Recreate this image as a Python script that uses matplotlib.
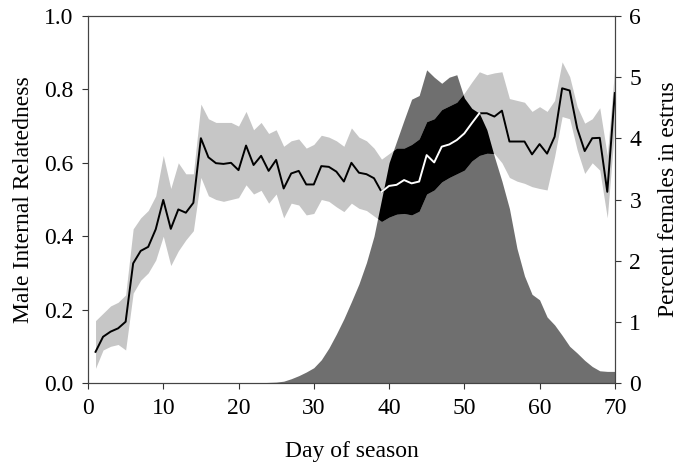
import numpy as np
import matplotlib
matplotlib.use("Agg")
import matplotlib.pyplot as plt
from matplotlib.ticker import FormatStrFormatter

plt.rcParams['font.family'] = ['Liberation Serif', 'DejaVu Serif']
plt.rcParams['font.size'] = 17

# day of season 1..70
days = np.arange(1, 71)

# mean male internal relatedness (left axis)
relatedness = [0.085, 0.126, 0.140, 0.149, 0.167, 0.326, 0.360, 0.371, 0.419, 0.499,
               0.420, 0.473, 0.464, 0.491, 0.667, 0.615, 0.599, 0.597, 0.600, 0.580,
               0.647, 0.594, 0.619, 0.578, 0.608, 0.530, 0.571, 0.578, 0.541, 0.541,
               0.591, 0.589, 0.576, 0.549, 0.600, 0.573, 0.569, 0.558, 0.521, 0.537,
               0.540, 0.553, 0.544, 0.549, 0.621, 0.601, 0.644, 0.650, 0.662, 0.680,
               0.708, 0.735, 0.735, 0.726, 0.742, 0.658, 0.658, 0.658, 0.623, 0.651,
               0.625, 0.671, 0.803, 0.797, 0.694, 0.632, 0.667, 0.668, 0.521, 0.790]

# confidence band around relatedness
ci_upper = [0.170, 0.190, 0.210, 0.220, 0.240, 0.420, 0.450, 0.470, 0.510, 0.620,
            0.530, 0.600, 0.570, 0.570, 0.760, 0.720, 0.710, 0.710, 0.710, 0.700,
            0.740, 0.690, 0.710, 0.680, 0.690, 0.645, 0.660, 0.665, 0.640, 0.650,
            0.675, 0.670, 0.660, 0.645, 0.695, 0.670, 0.660, 0.640, 0.610, 0.625,
            0.640, 0.640, 0.650, 0.665, 0.712, 0.720, 0.745, 0.755, 0.765, 0.790,
            0.820, 0.848, 0.840, 0.845, 0.848, 0.775, 0.770, 0.765, 0.740, 0.753,
            0.740, 0.770, 0.875, 0.835, 0.753, 0.708, 0.720, 0.750, 0.620, 0.860]
ci_lower = [0.040, 0.090, 0.100, 0.105, 0.090, 0.245, 0.280, 0.300, 0.335, 0.400,
            0.320, 0.360, 0.390, 0.415, 0.560, 0.510, 0.500, 0.495, 0.500, 0.505,
            0.540, 0.515, 0.525, 0.490, 0.515, 0.450, 0.490, 0.485, 0.458, 0.462,
            0.500, 0.495, 0.480, 0.467, 0.490, 0.476, 0.470, 0.455, 0.440, 0.452,
            0.460, 0.462, 0.458, 0.468, 0.515, 0.526, 0.548, 0.560, 0.570, 0.580,
            0.605, 0.620, 0.626, 0.625, 0.600, 0.560, 0.550, 0.544, 0.535, 0.530,
            0.526, 0.617, 0.726, 0.720, 0.635, 0.571, 0.600, 0.580, 0.450, 0.700]

# percent of females in estrus (right axis)
estrus = [0, 0, 0, 0, 0, 0, 0, 0, 0, 0,
          0, 0, 0, 0, 0, 0, 0, 0, 0, 0,
          0, 0, 0.005, 0.01, 0.015, 0.03, 0.07, 0.12, 0.18, 0.25,
          0.38, 0.57, 0.80, 1.05, 1.33, 1.62, 1.97, 2.40, 3.00, 3.60,
          3.95, 4.30, 4.64, 4.70, 5.12, 5.00, 4.90, 5.00, 5.04, 4.66,
          4.49, 4.41, 4.14, 3.70, 3.30, 2.85, 2.20, 1.75, 1.45, 1.36,
          1.08, 0.95, 0.78, 0.60, 0.49, 0.37, 0.27, 0.20, 0.19, 0.19]

# stretch of the line drawn in white (inside the black overlap)
white_start, white_end = 39, 52

est_max = 6.0

fig = plt.figure(figsize=(6.78, 4.65), dpi=100)
ax2 = fig.add_axes([0.1298, 0.1763, 0.777, 0.7893])
ax = ax2.twinx()
# put the relatedness axis on the left, estrus axis on the right
ax.yaxis.tick_left()
ax.yaxis.set_label_position('left')
ax2.yaxis.tick_right()
ax2.yaxis.set_label_position('right')

light = '#c6c6c6'
dark = '#6f6f6f'

ax2.fill_between(days, 0, estrus, color=dark, lw=0)

ax.fill_between(days, ci_lower, ci_upper, color=light, lw=0)

# overlap of the band and the estrus area, on a fine grid for clean edges
fine = np.linspace(days[0], days[-1], 1400)
lo_f = np.interp(fine, days, ci_lower)
up_f = np.interp(fine, days, ci_upper)
est_f = np.interp(fine, days, estrus) / est_max
top_f = np.minimum(up_f, est_f)
ax.fill_between(fine, lo_f, top_f, where=top_f > lo_f, color='black', lw=0)

ax.plot(days, relatedness, color='black', lw=1.4)
rel = np.array(relatedness)
seg = (days >= white_start) & (days <= white_end)
ax.plot(days[seg], rel[seg], color='white', lw=1.4)

ax.set_xlim(0, 70)
ax.set_ylim(0, 1.0)
ax2.set_ylim(0, 6)
ax2.set_xticks(np.arange(0, 71, 10))
ax.set_yticks(np.arange(0, 1.01, 0.2))
ax.yaxis.set_major_formatter(FormatStrFormatter('%.1f'))
ax2.set_yticks(np.arange(0, 7, 1))

ax.set_ylabel('Male Internal Relatedness', labelpad=7)
ax2.set_ylabel('Percent females in estrus', labelpad=12)
ax2.set_xlabel('Day of season', labelpad=16)

for a in (ax, ax2):
    a.tick_params(direction='out', length=4.5, width=0.8, color='#333333', pad=6)
    for s in a.spines.values():
        s.set_color('#444444')
        s.set_linewidth(0.8)

fig.savefig('out.png', dpi=100)
